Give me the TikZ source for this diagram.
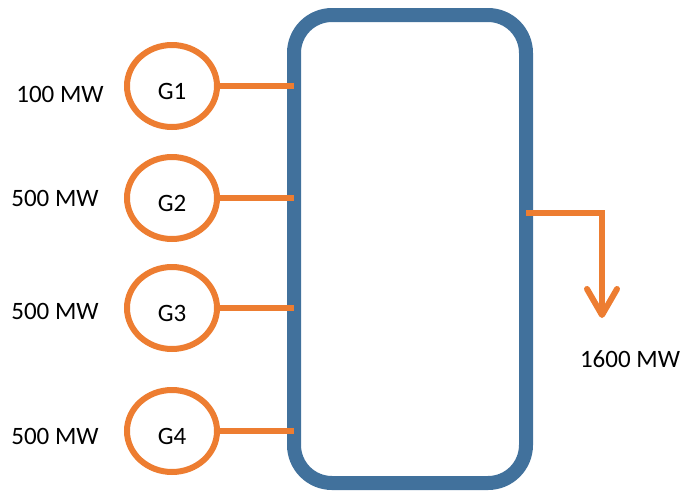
\documentclass[tikz,border=0pt]{standalone}
\usepackage{fontspec}
\setmainfont{Carlito}
\usetikzlibrary{shapes.geometric,arrows.meta}
\definecolor{genorange}{HTML}{ED7D31}
\definecolor{busblue}{HTML}{41719C}

\begin{document}
\begin{tikzpicture}[x=1pt,y=-1pt,
		every node/.style={font=\fontsize{25}{30}\selectfont},
		gen/.style={ellipse,draw=genorange,line width=6pt,minimum width=90pt,minimum height=82pt,outer sep=0pt,text height=26pt,text depth=0pt},
		busbar/.style={rectangle,draw=busblue,line width=14pt,rounded corners=38pt,minimum width=232pt,minimum height=468pt,outer sep=0pt},
		wire/.style={draw=genorange,line width=6pt}]
				\useasboundingbox (0,0) rectangle (681,491);
				
				\node[busbar] (bus) at (410,249) {};
				
				\node[gen] (g1) at (172,86) {G1};
				\node[gen] (g2) at (172,198) {G2};
				\node[gen] (g3) at (172,308) {G3};
				\node[gen] (g4) at (172,431) {G4};
				
				\node (p1) at (60,94) {100 MW};
				\node (p2) at (55,198) {500 MW};
				\node (p3) at (55,311) {500 MW};
				\node (p4) at (55,436) {500 MW};
				
				\draw[wire] (g1.east) -- (g1.east -| bus.west);
				\draw[wire] (g2.east) -- (g2.east -| bus.west);
				\draw[wire] (g3.east) -- (g3.east -| bus.west);
				\draw[wire] (g4.east) -- (g4.east -| bus.west);
				
				\coordinate (out) at (602,318);
				\draw[wire,-{Straight Barb[length=26pt,width=30pt,round]}] ([yshift=36pt]bus.east) -| (out);
				\node (load) at (630,359) {1600 MW};
			\end{tikzpicture}
\end{document}
